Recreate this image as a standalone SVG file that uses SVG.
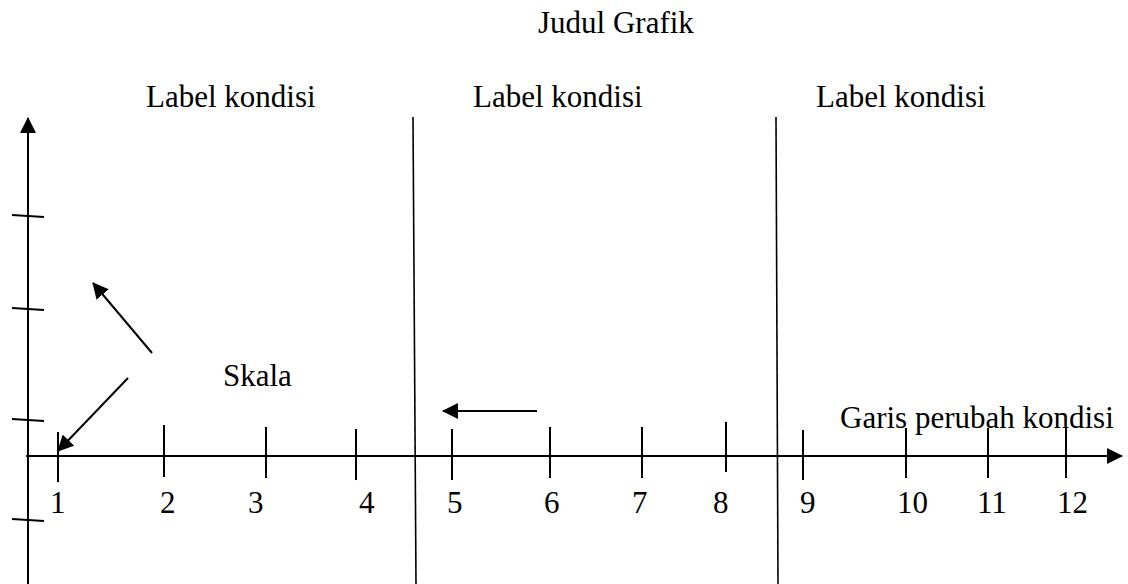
<svg xmlns="http://www.w3.org/2000/svg" width="1128" height="584" viewBox="0 0 1128 584">
  <defs>
    <marker id="arrow" viewBox="0 0 16 16" refX="15" refY="8" markerWidth="16" markerHeight="16" markerUnits="userSpaceOnUse" orient="auto">
      <path d="M0,0 L16,8 L0,16 Z" fill="#000"/>
    </marker>
    <style>
      .ln { stroke: #000; stroke-width: 2; fill: none; }
      .thin { stroke: #000; stroke-width: 1.6; fill: none; }
      .tx { font-family: "Liberation Serif", "Times New Roman", serif; font-size: 31px; fill: #000; }
    </style>
  </defs>

  <!-- title -->
  <g id="title">
    <text class="tx" x="538" y="33">Judul Grafik</text>
  </g>

  <!-- condition labels -->
  <g id="label-1"><text class="tx" x="146" y="107">Label kondisi</text></g>
  <g id="label-2"><text class="tx" x="473" y="107">Label kondisi</text></g>
  <g id="label-3"><text class="tx" x="816" y="107">Label kondisi</text></g>

  <!-- axes -->
  <g id="axes">
    <line class="ln" x1="28" y1="584" x2="28" y2="118" marker-end="url(#arrow)"/>
    <line class="ln" x1="26" y1="456" x2="1122" y2="456" marker-end="url(#arrow)"/>
  </g>

  <!-- y-axis ticks -->
  <g id="y-ticks">
    <line class="ln" x1="12" y1="215" x2="44" y2="217"/>
    <line class="ln" x1="12" y1="308" x2="44" y2="310"/>
    <line class="ln" x1="12" y1="419" x2="44" y2="421"/>
    <line class="ln" x1="12" y1="519" x2="44" y2="521"/>
  </g>

  <!-- x-axis ticks -->
  <g id="x-ticks">
    <line class="ln" x1="58" y1="432" x2="58" y2="482"/>
    <line class="ln" x1="164" y1="425" x2="164" y2="477"/>
    <line class="ln" x1="266" y1="427" x2="266" y2="478"/>
    <line class="ln" x1="356" y1="429" x2="356" y2="480"/>
    <line class="ln" x1="452" y1="429" x2="452" y2="480"/>
    <line class="ln" x1="550" y1="427" x2="550" y2="478"/>
    <line class="ln" x1="642" y1="427" x2="642" y2="478"/>
    <line class="ln" x1="726" y1="422" x2="726" y2="472"/>
    <line class="ln" x1="803" y1="430" x2="803" y2="480"/>
    <line class="ln" x1="906" y1="428" x2="906" y2="478"/>
    <line class="ln" x1="988" y1="428" x2="988" y2="478"/>
    <line class="ln" x1="1066" y1="428" x2="1066" y2="478"/>
  </g>

  <!-- x-axis numbers -->
  <g id="x-labels">
    <text class="tx" x="50" y="513">1</text>
    <text class="tx" x="160" y="513">2</text>
    <text class="tx" x="248" y="513">3</text>
    <text class="tx" x="359" y="513">4</text>
    <text class="tx" x="447" y="513">5</text>
    <text class="tx" x="544" y="513">6</text>
    <text class="tx" x="632" y="513">7</text>
    <text class="tx" x="713" y="513">8</text>
    <text class="tx" x="800" y="513">9</text>
    <text class="tx" x="897" y="513">10</text>
    <text class="tx" x="977" y="513">11</text>
    <text class="tx" x="1057" y="513">12</text>
  </g>

  <!-- condition change lines -->
  <g id="phase-lines">
    <line class="thin" x1="413" y1="117" x2="416" y2="584"/>
    <line class="thin" x1="776" y1="117" x2="778" y2="584"/>
  </g>

  <!-- annotations -->
  <g id="skala">
    <text class="tx" x="223" y="386">Skala</text>
  </g>
  <g id="garis-perubah">
    <text class="tx" x="840" y="428">Garis perubah kondisi</text>
  </g>

  <!-- pointer arrows -->
  <g id="connectors">
    <line class="ln" x1="152" y1="353" x2="93" y2="283" marker-end="url(#arrow)"/>
    <line class="ln" x1="128" y1="378" x2="58" y2="451" marker-end="url(#arrow)"/>
    <line class="ln" x1="537" y1="411" x2="443" y2="411" marker-end="url(#arrow)"/>
  </g>
</svg>
